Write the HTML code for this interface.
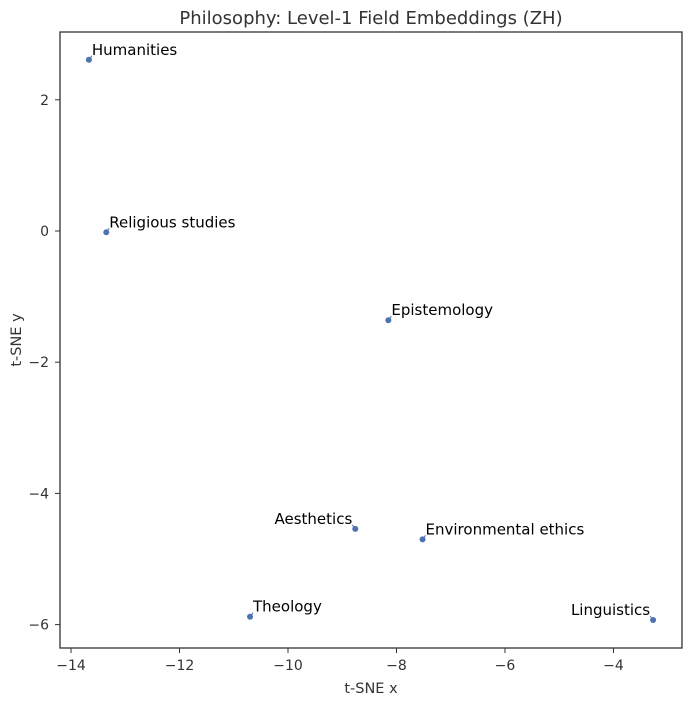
<!DOCTYPE html>
<html><head><meta charset="utf-8"><style>
html,body{margin:0;padding:0;background:#fff;}
svg{display:block;font-family:"DejaVu Sans","Liberation Sans",sans-serif;}
</style></head><body>
<svg id="chart" width="691" height="705">
<text x="371" y="24" text-anchor="middle" font-size="18" fill="#333">Philosophy: Level-1 Field Embeddings (ZH)</text>
<rect x="60" y="32" width="622" height="616" fill="none" stroke="#333" stroke-width="1.3"/>
<g id="xticks"></g>
<g id="yticks"></g>
<text x="371" y="693" text-anchor="middle" font-size="14.5" fill="#333">t-SNE x</text>
<text transform="translate(21,340) rotate(-90)" text-anchor="middle" font-size="14.5" fill="#333">t-SNE y</text>
<g id="points"></g>
</svg>
<script>
const labels=["Humanities","Religious studies","Epistemology","Aesthetics","Environmental ethics","Theology","Linguistics"];
const xs=[-13.67,-13.35,-8.15,-8.76,-7.52,-10.70,-3.27];
const ys=[2.61,-0.02,-1.36,-4.54,-4.70,-5.88,-5.93];
const leftSide=[false,false,false,true,false,false,true];
const xTicks=[-14,-12,-10,-8,-6,-4];
const yTicks=[2,0,-2,-4,-6];
const X=v=>71+(v+14)*54.25;
const Y=v=>231-v*65.6;
const NS="http://www.w3.org/2000/svg";
const mk=(t,a,p)=>{const e=document.createElementNS(NS,t);for(const k in a)e.setAttribute(k,a[k]);p.appendChild(e);return e;};
const gx=document.getElementById('xticks'),gy=document.getElementById('yticks'),gp=document.getElementById('points');
xTicks.forEach(v=>{
 mk('line',{x1:X(v),x2:X(v),y1:648,y2:653,stroke:'#333'},gx);
 const t=mk('text',{x:X(v),y:670,'text-anchor':'middle','font-size':14,fill:'#333'},gx);
 t.textContent=String(v).replace('-','−');
 
 
});
yTicks.forEach(v=>{
 mk('line',{x1:55,x2:60,y1:Y(v),y2:Y(v),stroke:'#333'},gy);
 const t=mk('text',{x:49,y:Y(v)+5,'text-anchor':'end','font-size':14,fill:'#333'},gy);
 t.textContent=String(v).replace('-','−');
 
 
});
labels.forEach((n,i)=>{
 const px=X(xs[i]),py=Y(ys[i]);
 const left=leftSide[i];
 const lx=left?px-3:px+3,ly=py-5;
 mk('line',{x1:px,y1:py,x2:lx,y2:ly+1,stroke:'#4c72b0','stroke-width':1},gp);
 const c=mk('circle',{cx:px,cy:py,r:3,fill:'#4c72b0'},gp);
 
 
 const t=mk('text',{x:lx,y:ly,'text-anchor':left?'end':'start','font-size':15,fill:'#000'},gp);
 t.textContent=n;
 
 
});
</script>
</body></html>
